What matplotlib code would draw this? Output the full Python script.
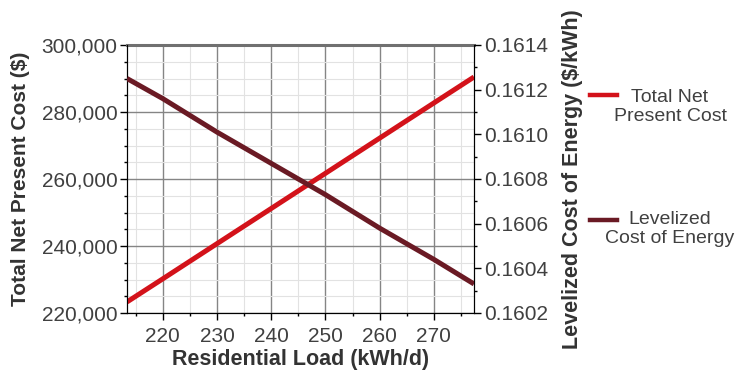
import matplotlib.pyplot as plt
from matplotlib.lines import Line2D
from matplotlib.ticker import FuncFormatter, MultipleLocator

plt.rcParams['font.family'] = ['Liberation Sans', 'DejaVu Sans']

# residential load sensitivity (kWh/d)
load = [213.4, 220, 230, 240, 250, 260, 270, 277.4]
npc = [223300, 230200, 240700, 251200, 261700, 272200, 282700, 290450]
lcoe = [0.16125, 0.16116, 0.16101, 0.16087, 0.16073, 0.16058, 0.16044, 0.16033]

x_ticks = [220, 230, 240, 250, 260, 270]
npc_ticks = [220000, 240000, 260000, 280000, 300000]
lcoe_ticks = [0.1602, 0.1604, 0.1606, 0.1608, 0.1610, 0.1612, 0.1614]

series_names = ['Total Net\nPresent Cost', 'Levelized\nCost of Energy']

red = '#d3121a'
dark_red = '#6a1a24'
txt = '#404040'

fig = plt.figure(figsize=(7.4, 3.71), dpi=100)
ax = fig.add_axes([127 / 740, 58 / 371, 347 / 740, 268 / 371])
ax2 = ax.twinx()

ax.plot(load, npc, color=red, lw=3.6, solid_capstyle='butt', zorder=3)
ax2.plot(load, lcoe, color=dark_red, lw=3.6, solid_capstyle='butt', zorder=3)

ax.set_xlim(213.4, 277.4)
ax.set_ylim(220000, 300000)
ax2.set_ylim(0.1602, 0.1614)

ax.set_xticks(x_ticks)
ax.set_yticks(npc_ticks)
ax2.set_yticks(lcoe_ticks)
ax.xaxis.set_minor_locator(MultipleLocator(5))
ax.yaxis.set_minor_locator(MultipleLocator(5000))
ax2.yaxis.set_minor_locator(MultipleLocator(0.0001))
ax.yaxis.set_major_formatter(FuncFormatter(lambda v, p: f'{v:,.0f}'))
ax2.yaxis.set_major_formatter(FuncFormatter(lambda v, p: f'{v:.4f}'))

ax.grid(which='major', color='#858585', lw=1.0)
ax.grid(which='minor', color='#e2e2e2', lw=0.8)
ax.set_axisbelow(True)

for a in (ax, ax2):
    a.tick_params(which='major', length=5, width=1, labelsize=15, labelcolor=txt, pad=2)
    a.tick_params(which='minor', length=2.5, width=1)
ax.tick_params(axis='x', pad=5)
ax.spines['top'].set_color('#707070')
ax.spines['top'].set_linewidth(2.2)
ax2.spines['top'].set_visible(False)

ax.set_xlabel('Residential Load (kWh/d)', fontsize=15.5, fontweight='bold', color='#333333', labelpad=2)
ax.set_ylabel('Total Net Present Cost ($)', fontsize=15, fontweight='bold', color='#333333', labelpad=8)
ax2.set_ylabel('Levelized Cost of Energy ($/kWh)', fontsize=15.5, fontweight='bold', color='#333333', labelpad=10)

# legend: short swatch beside the first line of each centred label
for name, col, y_line, y_text in zip(series_names, [red, dark_red], [95, 220], [107, 229]):
    fig.add_artist(Line2D([590 / 740, 617 / 740], [1 - y_line / 371] * 2,
                          color=col, lw=3.2, transform=fig.transFigure))
    fig.text(670 / 740, 1 - y_text / 371, name, ha='center', va='center',
             multialignment='center', fontsize=14, color=txt, linespacing=1.2)

fig.savefig('out.png', dpi=100)
